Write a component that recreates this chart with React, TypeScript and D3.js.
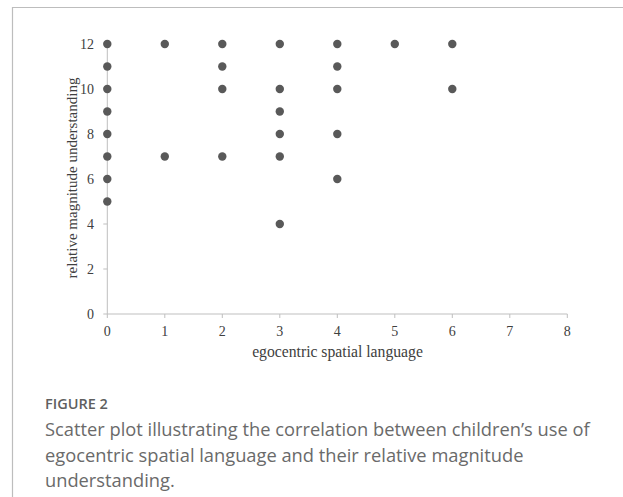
import React from "react";
import * as d3 from "d3";

const egoX = [0, 0, 0, 0, 0, 0, 0, 0, 1, 1, 2, 2, 2, 2, 3, 3, 3, 3, 3, 3, 4, 4, 4, 4, 4, 5, 6, 6];
const magY = [12, 11, 10, 9, 8, 7, 6, 5, 12, 7, 12, 11, 10, 7, 12, 10, 9, 8, 7, 4, 12, 11, 10, 8, 6, 12, 12, 10];
const xTicks = [0, 1, 2, 3, 4, 5, 6, 7, 8];
const yTicks = [0, 2, 4, 6, 8, 10, 12];
const xTitle = "egocentric spatial language";
const yTitle = "relative magnitude understanding";
const figLabel = "FIGURE 2";
const captionLines = [
  "Scatter plot illustrating the correlation between children\u2019s use of",
  "egocentric spatial language and their relative magnitude",
  "understanding.",
];

const W = 623;
const H = 497;

export default function App() {
  const x = d3.scaleLinear().domain([0, 8]).range([107.3, 567.3]);
  const y = d3.scaleLinear().domain([0, 12]).range([314, 44]);
  const axisColor = "#bfbfbf";
  const serif = "'Liberation Serif', 'Times New Roman', serif";
  const sans = "'Open Sans', Lato, sans-serif";
  return (
    <svg
      width={W}
      height={H}
      style={{ position: "absolute", left: 0, top: 0, background: "#fff" }}
    >
      <rect x={0} y={0} width={W} height={H} fill="#fff" />
      {/* frame */}
      <line x1={12} y1={7.5} x2={W} y2={7.5} stroke="#bdbdbd" strokeWidth={1.2} />
      <line x1={12.5} y1={7} x2={12.5} y2={H} stroke="#bdbdbd" strokeWidth={1.2} />

      {/* axes */}
      <line x1={x(0)} y1={y(12)} x2={x(0)} y2={y(0)} stroke={axisColor} strokeWidth={1} />
      <line x1={x(0)} y1={y(0)} x2={x(8)} y2={y(0)} stroke={axisColor} strokeWidth={1} />
      {yTicks.map((t) => (
        <g key={"y" + t}>
          <line x1={x(0) - 4} x2={x(0)} y1={y(t)} y2={y(t)} stroke={axisColor} />
          <text
            x={94}
            y={y(t)}
            dy="0.35em"
            textAnchor="end"
            fontFamily={serif}
            fontSize={14}
            fill="#404040"
          >
            {t}
          </text>
        </g>
      ))}
      {xTicks.map((t) => (
        <g key={"x" + t}>
          <line x1={x(t)} x2={x(t)} y1={y(0)} y2={y(0) + 4} stroke={axisColor} />
          <text
            x={x(t)}
            y={336}
            textAnchor="middle"
            fontFamily={serif}
            fontSize={14}
            fill="#404040"
          >
            {t}
          </text>
        </g>
      ))}
      <text
        x={337.5}
        y={357}
        textAnchor="middle"
        fontFamily={serif}
        fontSize={15.7}
        fill="#404040"
      >
        {xTitle}
      </text>
      <text
        transform={`translate(77, 178) rotate(-90)`}
        textAnchor="middle"
        fontFamily={serif}
        fontSize={15}
        fill="#404040"
      >
        {yTitle}
      </text>

      {/* points */}
      {egoX.map((v, i) => (
        <circle key={i} cx={x(v)} cy={y(magY[i])} r={4.2} fill="#595959" />
      ))}

      {/* caption */}
      <text x={45} y={409} fontFamily={sans} fontSize={14.5} fontWeight={600} fill="#5f5f5f">
        {figLabel}
      </text>
      {captionLines.map((l, i) => (
        <text key={i} x={45} y={436 + i * 25.5} fontFamily={sans} fontSize={18.3} fill="#6a6a6a">
          {l}
        </text>
      ))}
    </svg>
  );
}
